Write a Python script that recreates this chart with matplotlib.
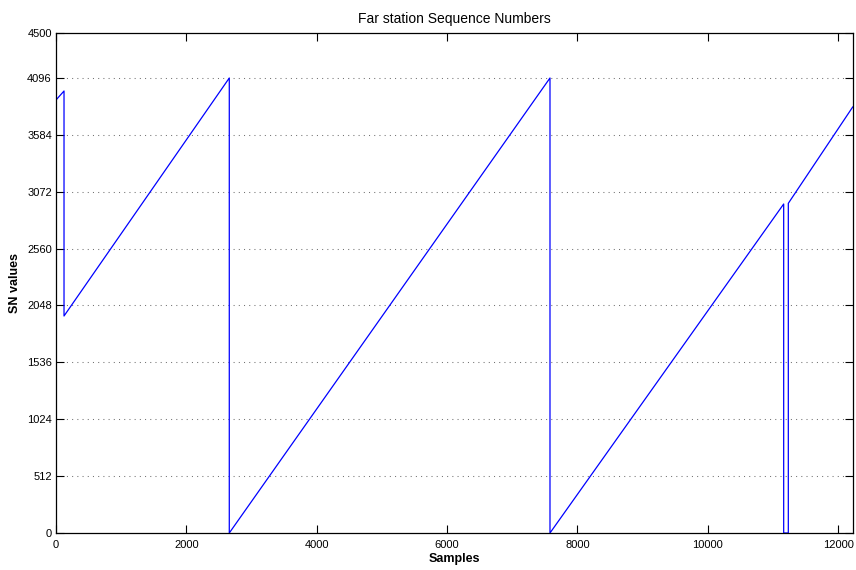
import matplotlib
matplotlib.use("Agg")
import matplotlib.pyplot as plt

# vertices of the sequence-number trace (sample index, SN value)
samples = [0, 123, 123, 2659, 2659, 7580, 7580, 11166, 11166, 11237, 11237, 12225]
sn_values = [3897, 3978, 1953, 4095, 0, 4095, 0, 2961, 0, 0, 2967, 3834]

yticks = [0, 512, 1024, 1536, 2048, 2560, 3072, 3584, 4096, 4500]
xticks = [0, 2000, 4000, 6000, 8000, 10000, 12000]

plt.rcParams['font.family'] = ['Liberation Sans', 'DejaVu Sans']

fig = plt.figure(figsize=(8.56, 5.70), dpi=100)
ax = fig.add_axes([56 / 856, 37 / 570, (852.7 - 56) / 856, 500 / 570])

ax.plot(samples, sn_values, color=(0, 0, 1), linewidth=0.9)

ax.set_xlim(0, 12225)
ax.set_ylim(0, 4500)
ax.set_xticks(xticks)
ax.set_yticks(yticks)
ax.tick_params(direction='in', top=True, right=True, labelsize=8, length=5.5, width=0.8)
ax.tick_params(axis='x', pad=5)
ax.tick_params(axis='y', pad=3)

# dotted grid only at the inner SN ticks
for v in yticks[1:-1]:
    ax.axhline(v, color='0.45', linestyle=(0, (1, 4)), linewidth=0.75, zorder=0)

for s in ax.spines.values():
    s.set_linewidth(0.9)

ax.set_title("Far station Sequence Numbers", fontsize=10, pad=7)
ax.set_xlabel("Samples", fontsize=9, fontweight='bold', labelpad=2)
ax.set_ylabel("SN values", fontsize=9, fontweight='bold', labelpad=4)

fig.savefig("out.png", dpi=100)
